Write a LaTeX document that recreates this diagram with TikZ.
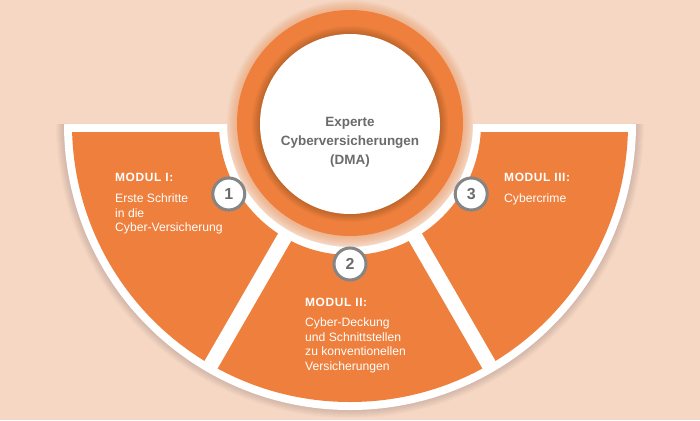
\documentclass[tikz,border=0pt]{standalone}
\usepackage{fontspec}
\setmainfont{Liberation Sans}
\newfontfamily\headfont[LetterSpace=5]{Liberation Sans}
\usepackage{tikz}
\usepackage{xcolor}
\usetikzlibrary{positioning}

\definecolor{bgpeach}{HTML}{F5D7C4}
\definecolor{modorange}{HTML}{EE7F3C}
\definecolor{numgrey}{HTML}{858585}
\definecolor{txtgrey}{HTML}{6B6B6B}

\tikzset{
  modhead/.style={anchor=base west, inner sep=0pt, text=white,
    font={\headfont\bfseries\fontsize{12}{14}\selectfont}},
  modbody/.style={anchor=north west, inner sep=0pt, align=left, text=white,
    font={\fontsize{12.2}{14.6}\selectfont}},
  numdot/.style={circle, draw=numgrey, line width=3bp, fill=white,
    minimum size=32bp, inner sep=0pt, text=txtgrey,
    font={\bfseries\fontsize{16}{16}\selectfont}},
  centertxt/.style={anchor=north, align=center, inner sep=0pt, text=txtgrey,
    font={\bfseries\fontsize{13.5}{19}\selectfont}}
}

\begin{document}
\begin{tikzpicture}[x=1bp,y=1bp]
    % Background
    \fill[bgpeach] (0,0) rectangle (700,420);
    \useasboundingbox (0,0) rectangle (700,420);
    \coordinate (hub) at (350,296);
    
    % Soft shadow under the fan
    \foreach \w in {2,4,...,16}
        \draw[black, opacity=0.015, line width=\w bp] (hub) ++(180:286) arc[start angle=180, end angle=360, radius=286];
    
    % Glow round the centre ring
    \foreach \r in {123,122,...,113}
        \fill[modorange, opacity=0.045] (350,297) circle[radius=\r];
    
    % White fan
    \fill[white] (hub) ++(180:286) arc[start angle=180, end angle=360, radius=286]
        -- ++(-163,0) arc[start angle=0, end angle=-180, radius=123] -- cycle;
    
    % Orange moduls
    \begin{scope}
        \clip (0,0) rectangle (700,288);
        \fill[modorange] (hub) ++(180:278) arc[start angle=180, end angle=360, radius=278]
            -- ++(-147,0) arc[start angle=0, end angle=-180, radius=131] -- cycle;
    \end{scope}
    
    % Gaps between the moduls
    \foreach \a in {240,300}
        \draw[white, line width=15bp] (hub) ++(\a:124) -- ++(\a:160);
    
    % Centre ring and disc
    \fill[modorange] (350,297) circle[radius=113];
    \foreach \r in {98,97,...,91}
        \fill[black, opacity=0.025] (350,296) circle[radius=\r];
    \fill[white] (350,296) circle[radius=90];
    \node[centertxt] (title) at (350,303) {Experte\\Cyberversicherungen\\(DMA)};
    
    % Number badges
    \node[numdot] (n1) at (228.8,226) {1};
    \node[numdot] (n2) at (350,156) {2};
    \node[numdot] (n3) at (471.2,226) {3};
    
    % Modul I
    \node[modhead] (head1) at (115,239) {MODUL I:};
    \node[modbody] (body1) at (115,226.2) {Erste Schritte\\in die\\Cyber-Versicherung};
    
    % Modul II
    \node[modhead] (head2) at (305,114) {MODUL II:};
    \node[modbody] (body2) at (305,102.2) {Cyber-Deckung\\und Schnittstellen\\zu konventionellen\\Versicherungen};
    
    % Modul III
    \node[modhead] (head3) at (504,239) {MODUL III:};
    \node[modbody] (body3) at (504,226.9) {Cybercrime};
\end{tikzpicture}
\end{document}
